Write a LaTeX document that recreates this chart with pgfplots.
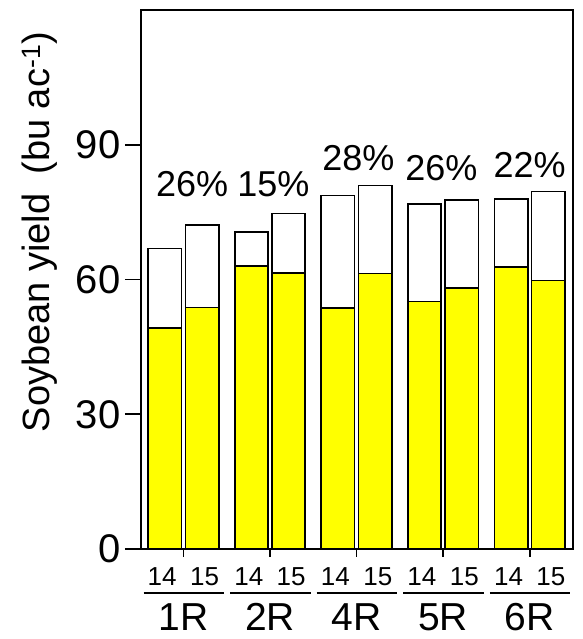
\documentclass[border=0pt]{standalone}
\usepackage{pgfplots}
\pgfplotsset{compat=1.18}
\usepackage{fontspec}
\setmainfont{Liberation Sans}
\definecolor{ylw}{RGB}{255,255,0}
\begin{document}
\begin{tikzpicture}
\begin{axis}[
  width=432pt, height=539pt, scale only axis,
  xmin=-0.49, xmax=4.5, ymin=0, ymax=120,
  ytick={0,30,60,90}, xtick=\empty,
  ytick pos=left, tick align=outside,
  major tick length=16pt,
  tick style={line width=1.8pt, black},
  axis line style={line width=2.4pt},
  /pgf/number format/assume math mode=true,
  yticklabel style={font=\fontsize{40}{42}\selectfont, xshift=-1pt},
  clip=false,
]
\coordinate (ll) at (rel axis cs:0,0);
\coordinate (ur) at (rel axis cs:1,1);
% totals (white)
\addplot[ybar, bar width=0.385, bar shift=0pt, fill=white, draw=black, line width=1.6pt]
  coordinates {(-0.215,66.9) (0.785,70.6) (1.785,78.7) (2.785,76.8) (3.785,77.9)};
\addplot[ybar, bar width=0.385, bar shift=0pt, fill=white, draw=black, line width=1.6pt]
  coordinates {(0.215,72.1) (1.215,74.7) (2.215,80.9) (3.215,77.7) (4.215,79.6)};
% yellow portion
\addplot[ybar, bar width=0.385, bar shift=0pt, fill=ylw, draw=black, line width=1.6pt]
  coordinates {(-0.215,49.2) (0.785,63.0) (1.785,53.7) (2.785,55.1) (3.785,62.8)};
\addplot[ybar, bar width=0.385, bar shift=0pt, fill=ylw, draw=black, line width=1.6pt]
  coordinates {(0.215,53.8) (1.215,61.5) (2.215,61.3) (3.215,58.1) (4.215,59.8)};
% percent labels
\node[font=\fontsize{36}{38}\selectfont] at (axis cs:0.1,81.3) {26\%};
\node[font=\fontsize{36}{38}\selectfont] at (axis cs:1.04,81.3) {15\%};
\node[font=\fontsize{36}{38}\selectfont] at (axis cs:2.02,87.1) {28\%};
\node[font=\fontsize{36}{38}\selectfont] at (axis cs:2.98,84.9) {26\%};
\node[font=\fontsize{36}{38}\selectfont] at (axis cs:4.0,85.5) {22\%};
% x ticks, year labels and group lines
\pgfplotsinvokeforeach{0,1,2,3,4}{
  \draw[line width=1.8pt] (axis cs:#1,0) -- ([yshift=-8pt]axis cs:#1,0);
  \node[font=\fontsize{26}{28}\selectfont, yshift=-28pt] at (axis cs:#1-0.245,0) {14};
  \node[font=\fontsize{26}{28}\selectfont, yshift=-28pt] at (axis cs:#1+0.245,0) {15};
  \draw[line width=1.6pt] ([yshift=-44pt]axis cs:#1-0.46,0) -- ([yshift=-44pt]axis cs:#1+0.47,0);
}
\node[font=\fontsize{39}{41}\selectfont, inner sep=0pt, yshift=-68pt] at (axis cs:0,0) {1R};
\node[font=\fontsize{39}{41}\selectfont, inner sep=0pt, yshift=-68pt] at (axis cs:1,0) {2R};
\node[font=\fontsize{39}{41}\selectfont, inner sep=0pt, yshift=-68pt] at (axis cs:2,0) {4R};
\node[font=\fontsize{39}{41}\selectfont, inner sep=0pt, yshift=-68pt] at (axis cs:3,0) {5R};
\node[font=\fontsize{39}{41}\selectfont, inner sep=0pt, yshift=-68pt] at (axis cs:4,0) {6R};
% y label
\node[rotate=90, font=\fontsize{38}{40}\selectfont] at ([xshift=-101pt]rel axis cs:0,0.588) {Soybean yield\hspace{0.5em}(bu ac\textsuperscript{-1})};
\end{axis}
\pgfresetboundingbox
\path ([shift={(-141pt,-90pt)}]ll) rectangle ([shift={(9pt,10pt)}]ur);
\end{tikzpicture}
\end{document}
